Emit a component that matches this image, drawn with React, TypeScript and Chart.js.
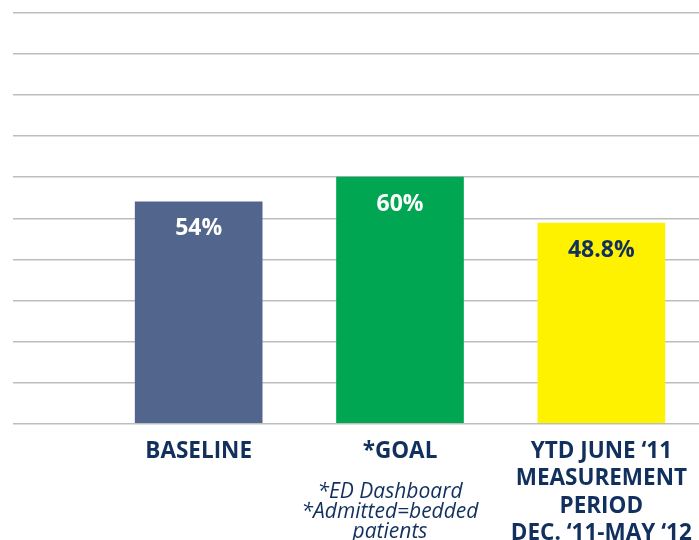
import React, { useEffect, useRef } from "react";
import { Chart, registerables } from "chart.js";

Chart.register(...registerables);

const categories: (string | string[])[] = [
  "BASELINE",
  "*GOAL",
  ["YTD JUNE \u201811", "MEASUREMENT", "PERIOD", "DEC. \u201811-MAY \u201812"],
];
const values = [54, 60, 48.8];
const barColors = ["#52658C", "#00A651", "#FFF200"];
const valueLabelColors = ["#FFFFFF", "#FFFFFF", "#12305E"];
const goalNotes = ["*ED Dashboard", "*Admitted=bedded", "patients"];
const yTicks = { min: 0, max: 100, step: 10 };

const NAVY = "#12305E";
const FONT = "'Open Sans', 'Noto Sans', sans-serif";

const valueLabelPlugin = {
  id: "valueLabels",
  afterDatasetsDraw(chart: any) {
    const ctx = chart.ctx;
    const meta = chart.getDatasetMeta(0);
    ctx.save();
    ctx.font = `bold 23px ${FONT}`;
    ctx.textAlign = "center";
    ctx.textBaseline = "middle";
    meta.data.forEach((el: any, i: number) => {
      ctx.fillStyle = valueLabelColors[i];
      ctx.fillText(`${values[i]}%`, el.x, el.y + 27);
    });
    ctx.restore();
  },
};

const goalNotePlugin = {
  id: "goalNotes",
  afterDraw(chart: any) {
    const ctx = chart.ctx;
    const xs = chart.scales.x;
    const x = xs.getPixelForValue(1) - 10;
    const y0 = chart.chartArea.bottom;
    ctx.save();
    ctx.font = `italic 21px ${FONT}`;
    ctx.fillStyle = NAVY;
    ctx.textAlign = "center";
    ctx.textBaseline = "alphabetic";
    goalNotes.forEach((t, i) => {
      ctx.fillText(t, x, y0 + 74 + i * 20);
    });
    ctx.restore();
  },
};

export default function App() {
  const ref = useRef<HTMLCanvasElement>(null);

  useEffect(() => {
    if (!ref.current) return;
    const chart = new Chart(ref.current, {
      type: "bar",
      data: {
        labels: categories,
        datasets: [
          {
            data: values,
            backgroundColor: barColors,
            borderWidth: 0,
            barThickness: 127,
          },
        ],
      },
      options: {
        responsive: false,
        animation: false,
        layout: { padding: { left: 13, top: 13, right: 0, bottom: 0 } },
        plugins: {
          legend: { display: false },
          tooltip: { enabled: false },
          title: { display: false },
        },
        scales: {
          y: {
            min: yTicks.min,
            max: yTicks.max,
            ticks: { stepSize: yTicks.step, display: false },
            grid: {
              color: "#BDBDBD",
              lineWidth: 1.5,
              drawTicks: true,
              tickLength: 85,
            },
            border: { display: false },
            afterFit: (s: any) => {
              s.width = 85;
            },
          },
          x: {
            grid: { display: false },
            border: { display: false },
            ticks: {
              color: NAVY,
              font: { family: FONT, weight: "bold", size: 22.5, lineHeight: 1.22 },
              padding: 6,
              maxRotation: 0,
              minRotation: 0,
              autoSkip: false,
            },
            afterFit: (s: any) => {
              s.height = 116.5;
            },
          },
        },
      },
      plugins: [valueLabelPlugin, goalNotePlugin],
    });
    return () => chart.destroy();
  }, []);

  return (
    <div
      style={{
        position: "fixed",
        left: 0,
        top: 0,
        width: 702,
        height: 540,
        background: "#FFFFFF",
      }}
    >
      <canvas ref={ref} width={702} height={540} style={{ display: "block" }} />
    </div>
  );
}
